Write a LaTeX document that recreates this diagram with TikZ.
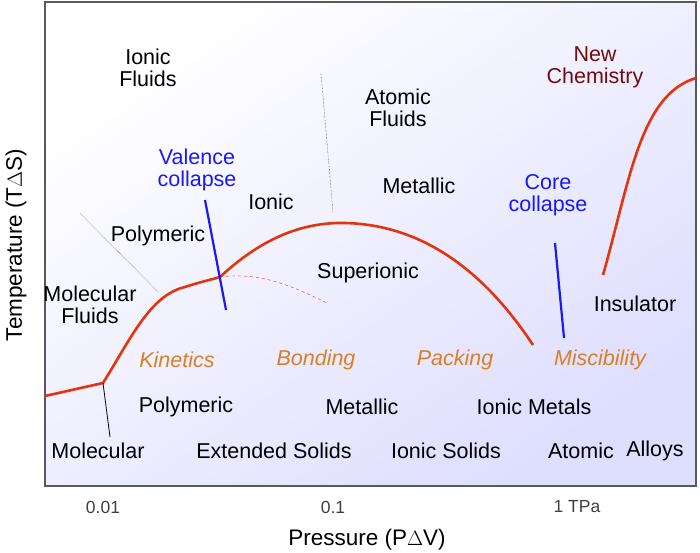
\documentclass[tikz,border=0pt]{standalone}
\usepackage{fontspec}
\setmainfont{Liberation Sans}
\definecolor{phaseline}{rgb}{0.90,0.20,0.05}
\definecolor{regimecolor}{rgb}{0.85,0.50,0.15}
\definecolor{collapsecolor}{rgb}{0.10,0.10,0.95}
\definecolor{newchemcolor}{rgb}{0.45,0.05,0.05}
\definecolor{framecolor}{rgb}{0.35,0.35,0.35}
\tikzset{
  lbl/.style={font=\fontsize{21.5}{22}\selectfont, align=center, inner sep=0pt},
  regime/.style={lbl, text=regimecolor, font=\fontsize{21.5}{22}\selectfont\itshape},
  collapse/.style={lbl, text=collapsecolor},
  tick/.style={lbl, font=\fontsize{17.5}{18}\selectfont, text=black!75},
  boundary/.style={phaseline, line width=2.6pt},
}
\begin{document}
\begin{tikzpicture}[x=1pt,y=-1pt]
\useasboundingbox (0,0) rectangle (700,553);
% background and frame
\shade[top color=white, bottom color=blue!13, shading angle=35] (45,2) rectangle (696,486);
\draw[framecolor, line width=1.5pt] (45,2) rectangle (696,486);
% phase boundaries
\draw[boundary] (45,396) -- (103,383) .. controls (130,340) and (150,295) .. (185,287)
  .. controls (200,282) and (210,280) .. (220,277)
  .. controls (260,240) and (300,222) .. (345,223)
  .. controls (430,225) and (490,280) .. (533,345);
\draw[phaseline, thin, dashed] (220,277) .. controls (260,272) and (290,285) .. (327,303);
\draw[boundary] (603,275) .. controls (630,180) and (640,95) .. (696,78);
\draw[thick] (103,383) -- (110,437);
\draw[collapsecolor, line width=2.2pt] (205,200) -- (226,310);
\draw[collapsecolor, line width=2.2pt] (555,243) -- (564,338);
\draw[densely dotted] (80,213) -- (158,292);
\draw[densely dotted] (321,73) -- (333,212);
% fluid labels
\node[lbl] (ionicfl) at (148,68) {Ionic\\Fluids};
\node[collapse] (valence) at (197,170) {Valence\\collapse};
\node[lbl] (ionic) at (271,202) {Ionic};
\node[lbl] (polyfl) at (158,236) {Polymeric};
\node[lbl] (molfl) at (90,305) {Molecular\\Fluids};
\node[lbl] (atomfl) at (398,108) {Atomic\\Fluids};
\node[lbl] (metalfl) at (419,186) {Metallic};
\node[lbl] (superion) at (368,273) {Superionic};
\node[collapse] (core) at (548,195) {Core\\collapse};
\node[lbl, text=newchemcolor] (newchem) at (595,67) {New\\Chemistry};
\node[lbl] (insul) at (635,304) {Insulator};
% regimes
\node[regime] (kinetics) at (177,360) {Kinetics};
\node[regime] (bonding) at (316,360) {Bonding};
\node[regime] (packing) at (455,360) {Packing};
\node[regime] (miscib) at (600,360) {Miscibility};
% solid labels
\node[lbl] (polysol) at (186,407) {Polymeric};
\node[lbl] (metalsol) at (362,407) {Metallic};
\node[lbl] (ionmet) at (534,407) {Ionic Metals};
\node[lbl] (molsol) at (98,451) {Molecular};
\node[lbl] (extsol) at (274,451) {Extended Solids};
\node[lbl] (ionsol) at (446,451) {Ionic Solids};
\node[lbl] (atomsol) at (581,451) {Atomic};
\node[lbl] (alloys) at (655,451) {Alloys};
% axes
\node[tick] (t1) at (103,507) {0.01};
\node[tick] (t2) at (333,507) {0.1};
\node[tick] (t3) at (577,507) {1 TPa};
\node[lbl, font=\fontsize{22.5}{24}\selectfont] (xlab) at (367,540) {Pressure (P$\Delta$V)};
\node[lbl, font=\fontsize{22.5}{24}\selectfont, rotate=90] (ylab) at (16,245) {Temperature (T$\Delta$S)};
\end{tikzpicture}
\end{document}
